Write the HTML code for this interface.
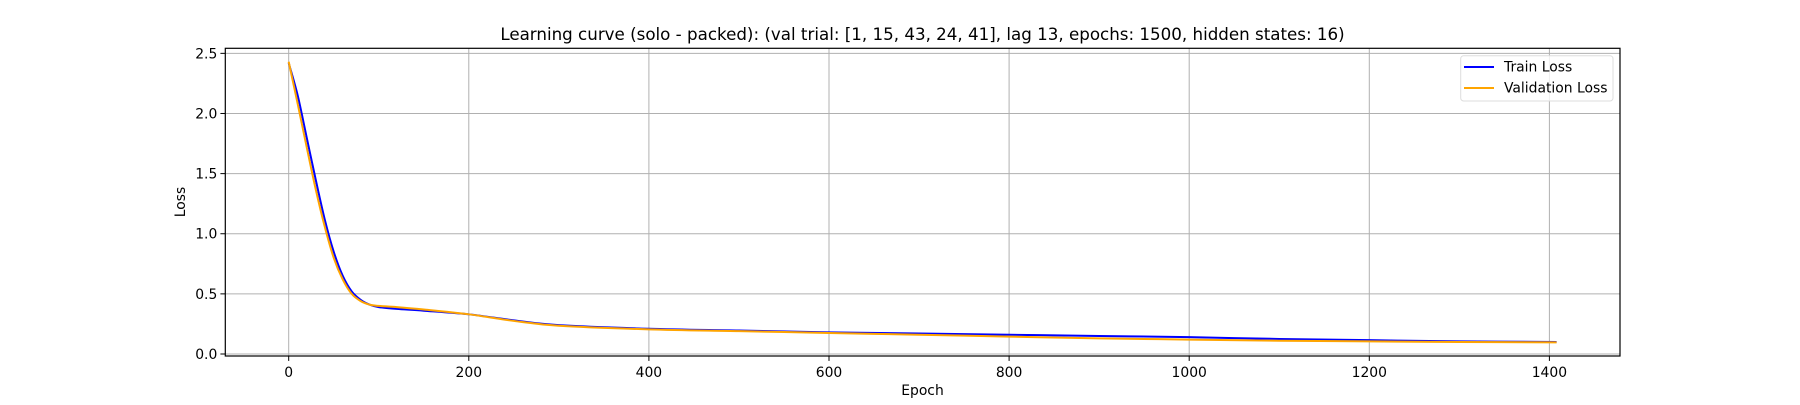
<!DOCTYPE html>
<html><head><meta charset="utf-8"><style>
body{margin:0;background:#fff;}
svg text{font-family:"DejaVu Sans","Liberation Sans",sans-serif;fill:#000;}
</style></head><body>
<svg id="chart" width="1800" height="400" xmlns="http://www.w3.org/2000/svg">
<rect width="1800" height="400" fill="#fff"/>
<text x="922.5" y="40" font-size="16.7" text-anchor="middle">Learning curve (solo - packed): (val trial: [1, 15, 43, 24, 41], lag 13, epochs: 1500, hidden states: 16)</text>
<g id="grid"></g>
<g id="series"></g>
<rect x="225.3" y="48.3" width="1394.7" height="307.7" fill="none" stroke="#000" stroke-width="1.2"/>
<g id="ticks"></g>
<text x="922.5" y="395" font-size="13.9" text-anchor="middle">Epoch</text>
<text x="185" y="202" font-size="13.9" text-anchor="middle" transform="rotate(-90 185 202)">Loss</text>
<g>
<rect x="1460.7" y="55.7" width="152.3" height="45.3" rx="3" fill="#fff" fill-opacity="0.8" stroke="#ddd"/>
<line x1="1464" y1="67" x2="1494" y2="67" stroke="#0000ff" stroke-width="2"/>
<text x="1504" y="71.5" font-size="13.9">Train Loss</text>
<line x1="1464" y1="88" x2="1494" y2="88" stroke="#ffa500" stroke-width="2"/>
<text x="1504" y="92.5" font-size="13.9">Validation Loss</text>
</g>
</svg>
<script>
const epochs=[0,10,20,30,40,50,60,70,80,90,100,120,150,200,250,300,400,500,600,700,800,900,1000,1100,1200,1300,1408];
const trainLoss=[2.42,2.15,1.80,1.45,1.12,0.85,0.65,0.52,0.45,0.41,0.39,0.375,0.36,0.33,0.28,0.24,0.21,0.195,0.18,0.17,0.16,0.15,0.14,0.125,0.115,0.105,0.10];
const valLoss=[2.43,2.08,1.72,1.37,1.06,0.80,0.62,0.50,0.44,0.41,0.40,0.39,0.37,0.33,0.275,0.235,0.205,0.19,0.175,0.16,0.145,0.13,0.12,0.11,0.105,0.10,0.097];
const xTicks=[0,200,400,600,800,1000,1200,1400];
const yTicks=[0.0,0.5,1.0,1.5,2.0,2.5];
const X0=225.3,X1=1620,Y0=356,Y1=48.3,xmin=-70.4,xmax=1478.4,ymin=-0.0166,ymax=2.542;
const sx=v=>X0+(v-xmin)/(xmax-xmin)*(X1-X0);
const sy=v=>Y0-(v-ymin)/(ymax-ymin)*(Y0-Y1);
const NS='http://www.w3.org/2000/svg';
const grid=document.getElementById('grid'),ticks=document.getElementById('ticks'),ser=document.getElementById('series');
function mk(t,a){const e=document.createElementNS(NS,t);for(const k in a)e.setAttribute(k,a[k]);return e;}
xTicks.forEach(v=>{const x=sx(v);
const g=mk('line',{x1:x,x2:x,y1:Y1,y2:Y0,stroke:'#b0b0b0','stroke-width':1});

grid.appendChild(g);
const t=mk('line',{x1:x,x2:x,y1:Y0,y2:Y0+4.9,stroke:'#000'});

ticks.appendChild(t);
const l=mk('text',{x:x,y:Y0+21,'font-size':13.9,'text-anchor':'middle'});l.textContent=v;

ticks.appendChild(l);});
yTicks.forEach(v=>{const y=sy(v);
const g=mk('line',{x1:X0,x2:X1,y1:y,y2:y,stroke:'#b0b0b0','stroke-width':1});

grid.appendChild(g);
const t=mk('line',{x1:X0-4.9,x2:X0,y1:y,y2:y,stroke:'#000'});

ticks.appendChild(t);
const l=mk('text',{x:X0-8,y:y+5,'font-size':13.9,'text-anchor':'end'});l.textContent=v.toFixed(1);

ticks.appendChild(l);});
function path(vals){
const p=epochs.map((e,i)=>[sx(e),sy(vals[i])]);
let d='M'+p[0][0]+','+p[0][1];
for(let i=0;i<p.length-1;i++){const a=p[i-1]||p[i],b=p[i],c=p[i+1],n=p[i+2]||c;
d+=' C'+(b[0]+(c[0]-a[0])/6)+','+(b[1]+(c[1]-a[1])/6)+' '+(c[0]-(n[0]-b[0])/6)+','+(c[1]-(n[1]-b[1])/6)+' '+c[0]+','+c[1];}
return d;}
const tl=mk('path',{d:path(trainLoss),fill:'none',stroke:'#0000ff','stroke-width':2});

ser.appendChild(tl);
const vl=mk('path',{d:path(valLoss),fill:'none',stroke:'#ffa500','stroke-width':2});

ser.appendChild(vl);
</script>
</body></html>
